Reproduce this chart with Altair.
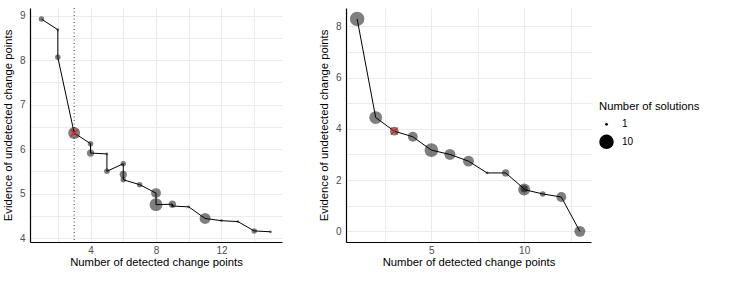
import json
import altair as alt
import pandas as pd

# ---- data ----
left_x = [1, 2, 2, 3, 4, 4, 5, 5, 6, 6, 6, 7, 8, 8, 9, 9, 10, 11, 12, 13, 14, 15]
left_y = [8.92, 8.68, 8.06, 6.36, 6.12, 5.91, 5.89, 5.50, 5.67, 5.43, 5.31, 5.20,
          5.01, 4.75, 4.76, 4.72, 4.70, 4.44, 4.39, 4.37, 4.16, 4.14]
left_n = [2, 1, 2, 7, 2, 3, 1, 2, 2, 3, 2, 2, 5, 8, 3, 1, 1, 6, 1, 1, 2, 1]
left_sel_x = [3]
left_sel_y = [6.36]

right_x = [1, 2, 3, 4, 5, 6, 7, 8, 9, 10, 10, 11, 12, 13]
right_y = [8.29, 4.44, 3.91, 3.69, 3.17, 3.00, 2.74, 2.28, 2.28, 1.66, 1.63, 1.46, 1.34, 0.0]
right_n = [10, 8, 4, 5, 9, 6, 6, 1, 3, 3, 7, 2, 5, 6]
right_sel_x = [3]
right_sel_y = [3.91]

left_xgrid = [2, 4, 6, 8, 10, 12, 14]
left_xlabels = [4, 8, 12]
left_ygrid = [4, 4.5, 5, 5.5, 6, 6.5, 7, 7.5, 8, 8.5, 9]
left_ylabels = [4, 5, 6, 7, 8, 9]
right_xgrid = [2.5, 5, 7.5, 10, 12.5]
right_xlabels = [5, 10]
right_ygrid = [0, 1, 2, 3, 4, 5, 6, 7, 8]
right_ylabels = [0, 2, 4, 6, 8]

legend_values = [1, 10]

X_TITLE = "Number of detected change points"
Y_TITLE = "Evidence of undetected change points"
SIZE_TITLE = "Number of solutions"

FONT = "Liberation Sans"
size_scale = alt.Scale(domain=[1, 10], range=[8, 210])


def label_expr(vals):
    return "indexof(" + json.dumps(vals) + ", datum.value) >= 0 ? '' + datum.value : ''"


def panel(xs, ys, ns, sx, sy, xdom, ydom, xgrid, xlabels, ygrid, ylabels, width, vline):
    df = pd.DataFrame({"x": xs, "y": ys, "n": ns, "o": list(range(len(xs)))})
    sel = pd.DataFrame({"x": sx, "y": sy})
    xenc = alt.X("x:Q", title=X_TITLE,
                 scale=alt.Scale(domain=xdom, nice=False, zero=False),
                 axis=alt.Axis(values=xgrid, labelExpr=label_expr(xlabels)))
    yenc = alt.Y("y:Q", title=Y_TITLE,
                 scale=alt.Scale(domain=ydom, nice=False, zero=False),
                 axis=alt.Axis(values=ygrid, labelExpr=label_expr(ylabels)))
    pts = alt.Chart(df).mark_circle(color="black", opacity=0.5).encode(
        x=xenc, y=yenc,
        size=alt.Size("n:Q", scale=size_scale, title=SIZE_TITLE,
                      legend=alt.Legend(values=legend_values, orient="none",
                                        legendX=569, legendY=93,
                                        symbolFillColor="#808080",
                                        symbolOpacity=1,
                                        symbolStrokeWidth=0)),
    )
    line = alt.Chart(df).mark_line(color="black", strokeWidth=1).encode(
        x=xenc, y=yenc, order="o:Q")
    cross = alt.Chart(sel).mark_point(
        shape="M-1,-1L1,1M-1,1L1,-1", filled=False, color="#e41a1c",
        strokeWidth=1.2, size=49, opacity=1).encode(x=xenc, y=yenc)
    layers = [pts, line, cross]
    if vline:
        rule = alt.Chart(sel).mark_rule(color="#333333", strokeDash=[1, 2.5],
                                        strokeWidth=1).encode(x=xenc)
        layers = [rule] + layers
    return alt.layer(*layers).properties(width=width, height=234)


left = panel(left_x, left_y, left_n, left_sel_x, left_sel_y,
             [0.3, 15.7], [3.911, 9.169], left_xgrid, left_xlabels,
             left_ygrid, left_ylabels, 252, True)
right = panel(right_x, right_y, right_n, right_sel_x, right_sel_y,
              [0.4, 13.6], [-0.415, 8.715], right_xgrid, right_xlabels,
              right_ygrid, right_ylabels, 245, False)

chart = alt.hconcat(left, right, spacing=36).properties(
    padding={"left": 2, "top": 7, "right": 5, "bottom": 5}
).configure_view(stroke=None).configure_axis(
    labelFont=FONT, titleFont=FONT, labelFontSize=10, titleFontSize=11.3,
    labelColor="#4d4d4d", titleColor="#000000", titleFontWeight="normal",
    domainColor="#000000", domainWidth=1.2, ticks=False, gridColor="#ebebeb",
    gridWidth=1, labelPadding=5,
).configure_axisX(titlePadding=1, labelPadding=3).configure_axisY(titlePadding=6).configure_legend(
    titleFont=FONT, labelFont=FONT, titleFontSize=11.3, labelFontSize=10,
    titleFontWeight="normal", titleColor="#000000", labelColor="#000000",
    rowPadding=5, labelOffset=8, titlePadding=7,
)

chart.save("out.html", embed_options={"renderer": "svg", "actions": False})
